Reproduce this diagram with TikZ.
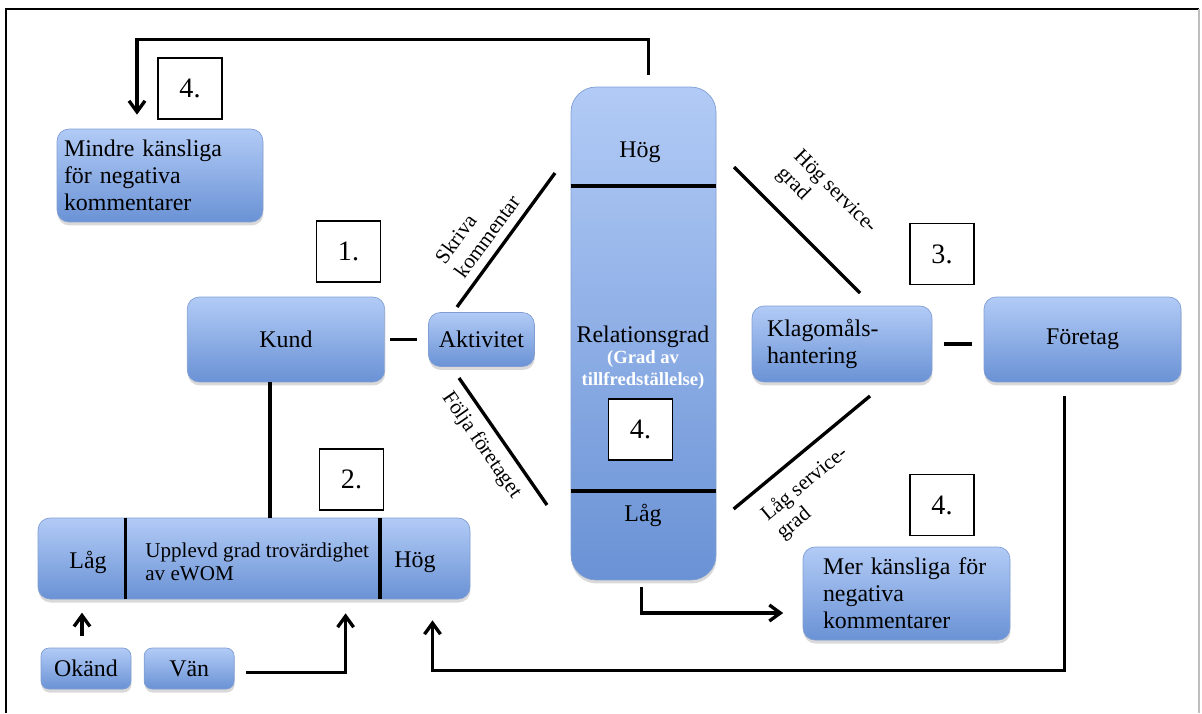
\documentclass[tikz,border=0pt]{standalone}
\usepackage{fontspec}
\setmainfont{Liberation Serif}
\usepackage{tikz}
\usetikzlibrary{arrows.meta, positioning, calc, shadows}
\definecolor{boxtop}{RGB}{178,203,246}
\definecolor{boxbot}{RGB}{106,146,213}
\definecolor{boxedge}{RGB}{128,158,212}
\definecolor{framegray}{RGB}{190,190,190}
\newcommand{\mainsize}{\fontsize{13.6}{15.4}\selectfont}
\tikzset{
  box/.style={rectangle, draw=boxedge, line width=0.4pt, top color=boxtop,
    bottom color=boxbot, rounded corners=0.24cm, align=center, font=\mainsize,
    drop shadow={shadow xshift=0.01cm, shadow yshift=-0.07cm, opacity=0.3}},
  relbox/.style={box, rounded corners=0.5cm, minimum width=2.9cm, minimum height=9.86cm},
  smallbox/.style={box, rounded corners=0.16cm, minimum width=1.8cm, minimum height=0.82cm},
  numbox/.style={rectangle, draw, fill=white, line width=0.9pt,
    minimum width=1.28cm, minimum height=1.22cm, font=\fontsize{16}{18}\selectfont},
  subtxt/.style={font=\bfseries\fontsize{10.6}{12.5}\selectfont, text=white, align=center},
  lbl/.style={font=\fontsize{12}{13.6}\selectfont, align=left, inner sep=2pt},
  conn/.style={line width=1.9pt},
  arr/.style={-{Straight Barb[length=0.22cm, width=0.32cm]}, line width=1.9pt}
}

\begin{document}
\begin{tikzpicture}[x=0.02cm, y=-0.02cm]
  \useasboundingbox (0,0) rectangle (1202,713);

  % frame
  \draw[line width=1.2pt] (6,713) -- (6,9) -- (1199,9);
  \draw[framegray, line width=1.2pt] (1199,9) -- (1199,713);

  % boxes
  \node[box, minimum width=4.12cm, minimum height=1.86cm, text width=3.84cm,
    inner xsep=0.14cm, align=left] (mindre) at (160,175.5) {Mindre känsliga\\för negativa\\kommentarer};
  \node[box, minimum width=3.95cm, minimum height=1.7cm] (kund) at (286,339.5) {Kund};
  \node[box, minimum width=2.12cm, minimum height=1.08cm, right=0.86cm of kund] (akt) {Aktivitet};
  \node[relbox] (rel) at (643.5,333.5) {};
  \node[box, minimum width=3.6cm, minimum height=1.52cm, text width=3cm,
    inner xsep=0.3cm, align=left] (klago) at (842,344) {Klagomåls-\\hantering};
  \node[box, minimum width=3.94cm, minimum height=1.7cm] (foretag) at (1082.5,339.5) {Företag};
  \node[box, minimum width=8.64cm, minimum height=1.62cm] (ewom) at (254,558.5) {};
  \node[box, minimum width=4.14cm, minimum height=1.86cm, text width=3.34cm,
    inner xsep=0.4cm, align=left] (mer) at (906.5,593.5) {Mer känsliga för\\negativa\\kommentarer};
  \node[smallbox] (okand) at (86,668.5) {Okänd};
  \node[smallbox, right=0.25cm of okand] (van) {Vän};

  % texts inside the long boxes
  \node[font=\mainsize] (relhigh) at (640,152) {Hög};
  \node[font=\mainsize] (relname) at (643,337) {Relationsgrad};
  \node[subtxt] (relsub) at (643,370) {(Grad av\\tillfredställelse)};
  \node[font=\mainsize] (rellow) at (643,515) {Låg};
  \draw[conn] (rel.west |- 0,186) -- (rel.east |- 0,186);
  \draw[conn] (rel.west |- 0,491) -- (rel.east |- 0,491);

  \node[font=\mainsize] (ewomlow) at (88,562) {Låg};
  \node[font=\fontsize{12}{13}\selectfont, align=left, anchor=west, inner sep=0pt]
    (ewomtxt) at (145,562) {Upplevd grad trovärdighet\\av eWOM};
  \node[font=\mainsize] (ewomhigh) at (415,562) {Hög};
  \draw[conn] (125.5,0 |- ewom.north) -- (125.5,0 |- ewom.south);
  \draw[conn] (380,0 |- ewom.north) -- (380,0 |- ewom.south);

  % numbers
  \node[numbox] (n4a) at (190,88.5) {4.};
  \node[numbox] (n1) at (348.5,251.5) {1.};
  \node[numbox] (n3) at (942,254) {3.};
  \node[numbox] (n2) at (351.5,479.5) {2.};
  \node[numbox] (n4b) at (640.5,429.5) {4.};
  \node[numbox] (n4c) at (942,505) {4.};

  % plain links
  \coordinate (kd) at ([xshift=-0.32cm]kund.south);
  \draw[conn, shorten <=0.1cm, shorten >=0.22cm] (kund.east) -- (akt.west);
  \draw[conn, shorten <=0.24cm, shorten >=0.24cm] (klago.east) -- (klago.east -| foretag.west);
  \draw[conn] (kd) -- (kd |- ewom.north);

  % sloped links
  \coordinate (skrA) at (457,307);
  \coordinate (skrB) at (555,173);
  \coordinate (folA) at (459,378);
  \coordinate (folB) at (547,505);
  \coordinate (hogA) at (734,167);
  \coordinate (hogB) at (860,293);
  \coordinate (lagA) at (733.6,509);
  \coordinate (lagB) at (870,396);
  \draw[conn] (skrA) -- node[lbl, sloped, above=0.1cm, pos=0.45] {Skriva\\kommentar} (skrB);
  \draw[conn] (folA) -- node[lbl, sloped, below=0.1cm, pos=0.44] {Följa företaget} (folB);
  \draw[conn] (hogA) -- node[lbl, sloped, above=0.3cm, pos=0.5] {Hög service-\\grad} (hogB);
  \draw[conn] (lagA) -- node[lbl, sloped, below=0.22cm, pos=0.4] {Låg service-\\grad} (lagB);

  % arrows
  \draw[arr] ([shift={(5,-12)}]rel.north) |- ([shift={(-23,-89)}]mindre.north)
    -- ([shift={(-23,-14)}]mindre.north);
  \draw[arr] ([shift={(-2,7)}]rel.south) |- ([shift={(-19.5,19.5)}]mer.west);
  \draw[arr] ([shift={(-18,14)}]foretag.south) |- ([shift={(178.5,71)}]ewom.south)
    -- ([shift={(178.5,21)}]ewom.south);
  \draw[arr] ([shift={(11.5,4)}]van.east) -| ([shift={(91.6,14)}]ewom.south);
  \draw[arr] ([shift={(-4,-12)}]okand.north) -- ([shift={(-4,-35)}]okand.north);
\end{tikzpicture}
\end{document}
